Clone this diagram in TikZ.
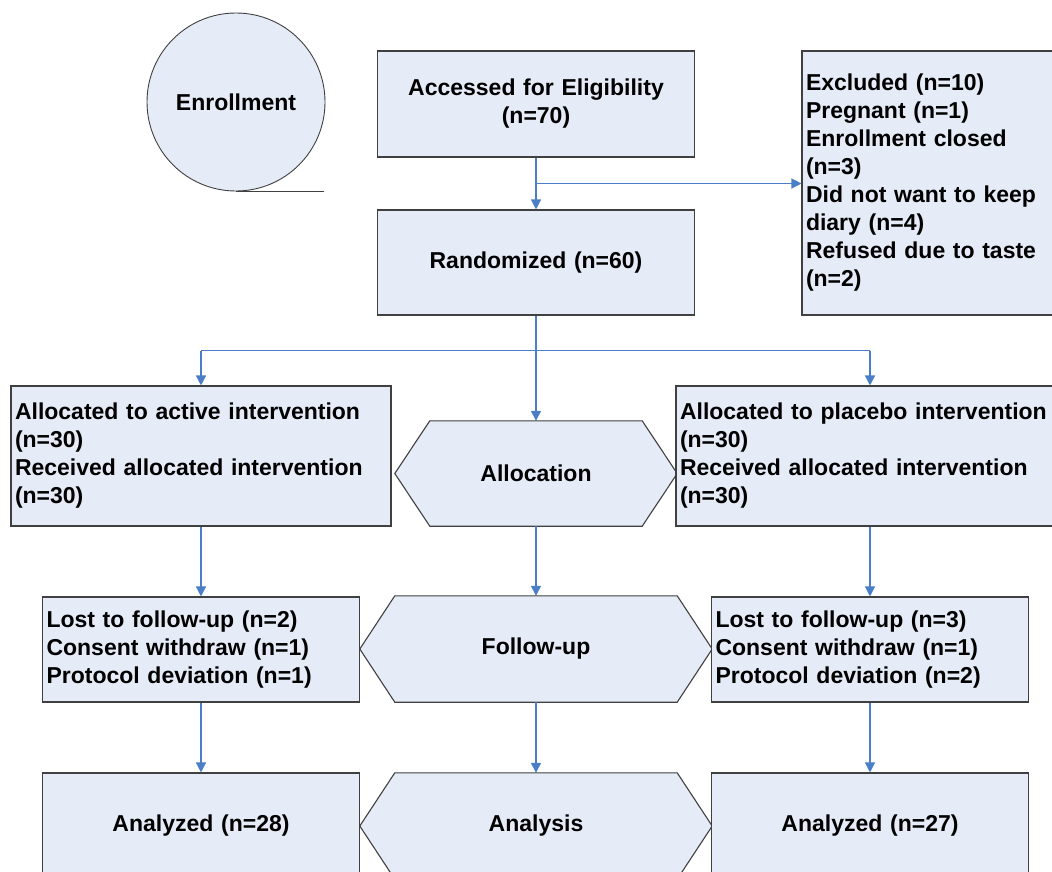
\documentclass[tikz,border=0pt]{standalone}
\usepackage{fontspec}
\setmainfont{Liberation Sans}
\usetikzlibrary{arrows.meta,backgrounds,calc}
\definecolor{boxfill}{HTML}{E6ECF7}
\definecolor{edge}{HTML}{404040}
\definecolor{link}{HTML}{4A7EC6}
\begin{document}
\begin{tikzpicture}[x=1pt,y=-1pt,
  every node/.style={font=\fontsize{23}{28}\selectfont\bfseries},
  box/.style={draw=edge, fill=boxfill, line width=1.1pt, rectangle, inner xsep=4pt, inner ysep=0pt, align=left},
  cbox/.style={box, align=center},
  hexlabel/.style={inner sep=0pt},
  hexshape/.style={draw=edge, fill=boxfill, line width=1.1pt, line join=miter},
  conn/.style={draw=link, line width=1.3pt},
  arr/.style={conn, -{Triangle[width=10pt,length=10pt]}}
]
\useasboundingbox (0,0) rectangle (1052,871);

% Enrollment
\node[circle, draw=edge, fill=boxfill, line width=0.9pt, minimum size=178pt, inner sep=0pt] (enr) at (236,102) {Enrollment};
\draw[draw=edge, line width=1.1pt] (enr.south) -- ++(88,0);

% top column
\node[cbox, minimum height=106pt, text width=309pt] (acc) at (536,104) {Accessed for Eligibility\\(n=70)};
\node[cbox, minimum height=105pt, text width=309pt] (rnd) at (536,262.5) {Randomized (n=60)};
\node[box, minimum height=264pt, text width=260pt] (exc) at (936,183) {Excluded (n=10)\\Pregnant (n=1)\\Enrollment closed\\(n=3)\\Did not want to keep\\diary (n=4)\\Refused due to taste\\(n=2)};

% allocation row
\node[box, minimum height=140pt, text width=372pt] (actL) at (201,456) {Allocated to active intervention\\(n=30)\\Received allocated intervention\\(n=30)};
\node[box, minimum height=140pt, text width=380pt] (actR) at (870,456) {Allocated to placebo intervention\\(n=30)\\Received allocated intervention\\(n=30)};
\node[hexlabel, minimum width=212pt, minimum height=105pt] (alloc) at (536,473.5) {Allocation};

% follow-up row
\node[box, minimum height=105pt, text width=309pt] (fuL) at (201,649.5) {Lost to follow-up (n=2)\\Consent withdraw (n=1)\\Protocol deviation (n=1)};
\node[box, minimum height=105pt, text width=309pt] (fuR) at (870,649.5) {Lost to follow-up (n=3)\\Consent withdraw (n=1)\\Protocol deviation (n=2)};
\node[hexlabel, minimum width=282pt, minimum height=106pt] (fu) at (536,649) {Follow-up};

% analysis row
\node[cbox, minimum height=105pt, text width=309pt] (anL) at (201,825.5) {Analyzed (n=28)};
\node[cbox, minimum height=105pt, text width=309pt] (anR) at (870,825.5) {Analyzed (n=27)};
\node[hexlabel, minimum width=282pt, minimum height=106pt] (an) at (536,826) {Analysis};

\begin{scope}[on background layer]
\foreach \h in {alloc,fu,an}
  \draw[hexshape] (\h.north west) -- (\h.north east) -- ($(\h.east)+(35,0)$) -- (\h.south east) -- (\h.south west) -- ($(\h.west)-(35,0)$) -- cycle;
\end{scope}

% connectors
\coordinate (b1) at ($(acc.south)!0.5!(rnd.north)$);
\coordinate (b2) at ($(rnd.south)+(0,35)$);
\draw[arr] (acc.south) -- (rnd.north);
\draw[arr] (b1) -- (b1 -| exc.west);
\draw[conn] (rnd.south) -- (b2);
\draw[conn] (b2 -| actL.north) -- (b2 -| actR.north);
\draw[arr] (b2 -| actL.north) -- (actL.north);
\draw[arr] (b2) -- (alloc.north);
\draw[arr] (b2 -| actR.north) -- (actR.north);
\draw[arr] (actL.south) -- (fuL.north);
\draw[arr] (alloc.south) -- (fu.north);
\draw[arr] (actR.south) -- (fuR.north);
\draw[arr] (fuL.south) -- (anL.north);
\draw[arr] (fu.south) -- (an.north);
\draw[arr] (fuR.south) -- (anR.north);
\end{tikzpicture}
\end{document}
